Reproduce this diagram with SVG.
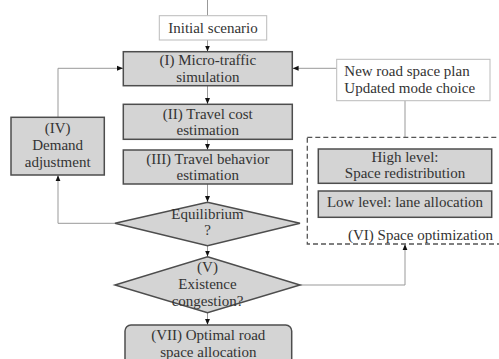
<svg xmlns="http://www.w3.org/2000/svg" width="499" height="359" viewBox="0 0 499 359">
<style>
  text { font-family: "Liberation Serif", "Times New Roman", serif; font-size: 15px; fill: #333; text-anchor: middle; }
  .box { fill: #d4d4d4; stroke: #4d4d4d; stroke-width: 1.5; }
  .wbox { fill: #fff; stroke: #bbb; stroke-width: 1; }
  .dash { fill: none; stroke: #555; stroke-width: 1.3; stroke-dasharray: 5 3; }
  .conn { fill: none; stroke: #999; stroke-width: 1; }
</style>
<defs>
  <marker id="arr" markerUnits="userSpaceOnUse" markerWidth="6" markerHeight="6" viewBox="0 0 6 6" refX="6" refY="3" orient="auto">
    <path d="M0,0.5 L6,3 L0,5.5 Z" fill="#111"/>
  </marker>
</defs>
<rect width="499" height="359" fill="#fff"/>
<g id="connectors">
  <path class="conn" d="M207.5,0 V15.7"/>
  <path class="conn" d="M207.5,40 V51.5" marker-end="url(#arr)"/>
  <path class="conn" d="M207.5,85.7 V104" marker-end="url(#arr)"/>
  <path class="conn" d="M207.5,139.3 V149.8" marker-end="url(#arr)"/>
  <path class="conn" d="M207.5,184 V202" marker-end="url(#arr)"/>
  <path class="conn" d="M207.5,245.7 V256.5" marker-end="url(#arr)"/>
  <path class="conn" d="M207.5,312.7 V324.8" marker-end="url(#arr)"/>
  <path class="conn" d="M115,223.3 H58 V175.3" marker-end="url(#arr)"/>
  <path class="conn" d="M58,117.3 V68.3 H123" marker-end="url(#arr)"/>
  <path class="conn" d="M336.7,68.3 H292.6" marker-end="url(#arr)"/>
  <path class="conn" d="M405,100.7 V137.3"/>
  <path class="conn" d="M300,285 H405 V244.3" marker-end="url(#arr)"/>
</g>
<g id="initial">
  <rect class="wbox" x="159.3" y="15.7" width="107.4" height="24.3"/>
  <text x="213" y="33.3">Initial scenario</text>
</g>
<g id="n1">
  <rect class="box" x="123.3" y="51.7" width="169" height="34"/>
  <text x="207.8" y="65">(I) Micro-traffic</text>
  <text x="207.8" y="81.5">simulation</text>
</g>
<g id="n2">
  <rect class="box" x="123.3" y="104.3" width="169" height="35"/>
  <text x="207.8" y="119">(II) Travel cost</text>
  <text x="207.8" y="135">estimation</text>
</g>
<g id="n3">
  <rect class="box" x="123.3" y="150" width="169" height="34"/>
  <text x="207.8" y="163.5">(III) Travel behavior</text>
  <text x="207.8" y="180">estimation</text>
</g>
<g id="n4">
  <rect class="box" x="11" y="117.3" width="93.3" height="57.7"/>
  <text x="57.7" y="133.3">(IV)</text>
  <text x="57.7" y="150">Demand</text>
  <text x="57.7" y="166.7">adjustment</text>
</g>
<g id="eq">
  <polygon class="box" points="207.5,202.3 300,223.3 207.5,245.7 115,223.3"/>
  <text x="207.5" y="219.3">Equilibrium</text>
  <text x="207.5" y="235">?</text>
</g>
<g id="n5">
  <polygon class="box" points="207.5,256.7 300,285 207.5,312.7 115,285"/>
  <text x="207.5" y="271.7">(V)</text>
  <text x="207.5" y="289.3">Existence</text>
  <text x="207.5" y="306">congestion?</text>
</g>
<g id="n7">
  <rect class="box" x="125" y="325" width="166.7" height="50" rx="6"/>
  <text x="208.3" y="340">(VII) Optimal road</text>
  <text x="208.3" y="356.7">space allocation</text>
</g>
<g id="plan">
  <rect class="wbox" x="336.7" y="59.3" width="153.3" height="41.4"/>
  <text x="344.3" y="76" style="text-anchor:start">New road space plan</text>
  <text x="344.3" y="92.7" style="text-anchor:start">Updated mode choice</text>
</g>
<g id="n6">
  <rect class="dash" x="307.3" y="137.3" width="200" height="106.7"/>
  <rect class="box" x="318.3" y="149" width="173.4" height="34.3"/>
  <text x="405" y="161.7">High level:</text>
  <text x="405" y="178.3">Space redistribution</text>
  <rect class="box" x="318.3" y="191" width="173.4" height="26.3"/>
  <text x="405" y="207.3">Low level: lane allocation</text>
  <text x="493" y="240" style="text-anchor:end">(VI) Space optimization</text>
</g>
</svg>
